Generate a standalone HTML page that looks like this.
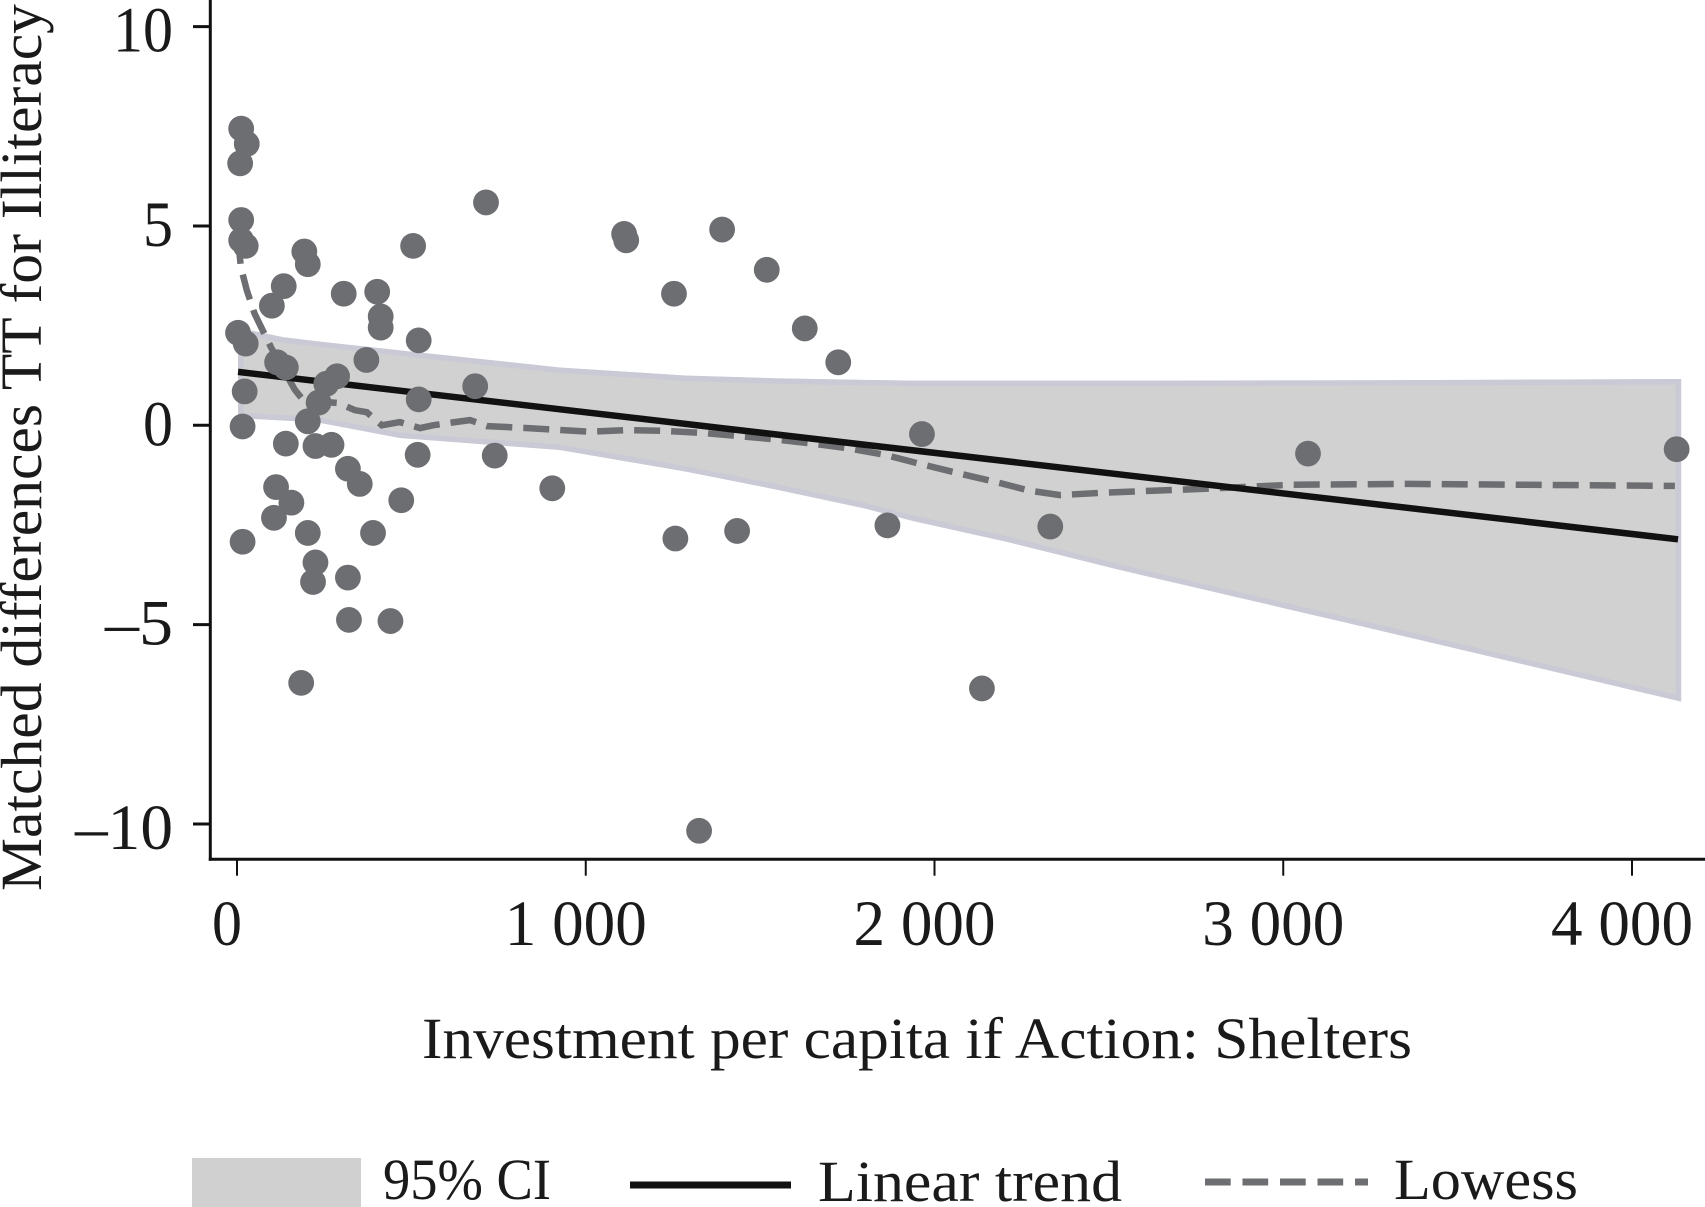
<!DOCTYPE html>
<html lang="en">
<head>
<meta charset="utf-8">
<title>Matched differences TT for Illiteracy vs investment per capita</title>
<style>
html,body{margin:0;padding:0;background:#fff;width:1705px;height:1207px;overflow:hidden}
svg{display:block}
text{font-family:"Liberation Serif",serif;fill:#1a1a1a}
</style>
</head>
<body>
<svg id="chart" xmlns="http://www.w3.org/2000/svg" width="1705" height="1207" viewBox="0 0 1705 1207">
<defs><clipPath id="band-clip"><polygon id="band-clip-shape"/></clipPath></defs>
<g id="plot"></g>
<g id="axes">
<line x1="210.3" y1="0" x2="210.3" y2="860.8" stroke="#111" stroke-width="3"/>
<line x1="208.8" y1="859.3" x2="1705" y2="859.3" stroke="#111" stroke-width="3"/>
</g>
<text transform="translate(41,891) rotate(-90)" font-size="58" textLength="887" lengthAdjust="spacingAndGlyphs">Matched differences TT for Illiteracy</text>
<text x="422" y="1058" font-size="58" textLength="990" lengthAdjust="spacingAndGlyphs">Investment per capita if Action: Shelters</text>
<g>
<rect x="192" y="1158" width="169" height="49" fill="#d0d0d0"/>
<text x="383" y="1199" font-size="58" textLength="168" lengthAdjust="spacingAndGlyphs">95% CI</text>
<line x1="630" y1="1185" x2="791" y2="1185" stroke="#111" stroke-width="7"/>
<text x="818" y="1201" font-size="58" textLength="304" lengthAdjust="spacingAndGlyphs">Linear trend</text>
<line x1="1205" y1="1182" x2="1368" y2="1182" stroke="#6d6e71" stroke-width="7" stroke-dasharray="25.7 11.8"/>
<text x="1394" y="1199" font-size="58" textLength="184" lengthAdjust="spacingAndGlyphs">Lowess</text>
</g>
</svg>
<script>
const pointX = [12,28,9,12,12,25,3,25,22,16,16,100,134,115,140,193,203,306,402,412,412,505,521,371,287,256,234,203,140,225,271,521,518,683,714,739,904,318,352,112,156,106,203,390,471,225,218,318,321,440,184,1110,1116,1253,1391,1519,1628,1724,1964,1865,1257,1434,1325,2136,2332,3071,4128];
const pointY = [7.44,7.06,6.57,5.15,4.64,4.5,2.32,2.05,0.85,-0.03,-2.92,3.0,3.49,1.58,1.45,4.36,4.04,3.3,3.35,2.73,2.45,4.5,2.13,1.64,1.23,1.04,0.57,0.1,-0.46,-0.52,-0.49,0.65,-0.74,0.98,5.59,-0.76,-1.58,-1.09,-1.47,-1.55,-1.94,-2.32,-2.7,-2.7,-1.88,-3.44,-3.93,-3.82,-4.88,-4.91,-6.46,4.8,4.64,3.3,4.91,3.9,2.43,1.58,-0.22,-2.51,-2.84,-2.65,-10.17,-6.6,-2.54,-0.71,-0.6];
const trendX = [3,4132];
const trendY = [1.34,-2.86];
const lowessX = [3,11,28,50,66,99,166,190,290,338,372,415,467,525,562,625,668,717,834,1012,1121,1223,1336,1437,1540,1643,1755,1858,1960,2067,2170,2273,2360,2488,2807,3028,3360,4123];
const lowessY = [4.7,3.97,3.39,2.81,2.52,1.93,0.89,0.63,0.56,0.38,0.33,0,0.08,-0.07,0,0.08,0.13,-0.02,-0.07,-0.16,-0.12,-0.14,-0.19,-0.27,-0.35,-0.45,-0.58,-0.74,-0.97,-1.2,-1.41,-1.64,-1.75,-1.69,-1.58,-1.49,-1.47,-1.52];
const ciX = [3,132,238,467,926,1285,1540,1797,1938,2206,2532,3249,4141];
const ciUpper = [2.45,2.21,2.1,1.88,1.45,1.25,1.18,1.14,1.12,1.12,1.12,1.13,1.16];
const ciLower = [0.18,0.12,0.06,-0.32,-0.62,-1.16,-1.6,-2.08,-2.4,-2.92,-3.63,-5.09,-6.93];
const xTickValues = [0,1000,2000,3000,4000];
const xTickLabels = ['0','1 000','2 000','3 000','4 000'];
const yTickValues = [10,5,0,-5,-10];
const yTickLabels = ['10','5','0','–5','–10'];

const NS = 'http://www.w3.org/2000/svg';
function xScale(v){ return 237 + 0.34875 * v; }
function yScale(v){ return 425.3 - 39.87 * v; }
function labelWidth(s){
  let w = 0;
  for (const c of s) { w += c === ' ' ? 22 : c === '–' ? 38 : 30; }
  return w;
}
function yLabelBaseline(v){ return yScale(v) + (Math.abs(v) === 10 ? 25 : 20); }
function make(tag, attrs){
  const el = document.createElementNS(NS, tag);
  for (const k in attrs) el.setAttribute(k, attrs[k]);
  return el;
}
const plot = document.getElementById('plot');
const axes = document.getElementById('axes');

const upperPts = ciX.map((x,i)=>xScale(x)+','+yScale(ciUpper[i]));
const lowerPts = ciX.map((x,i)=>xScale(x)+','+yScale(ciLower[i])).reverse();
const bandPoints = upperPts.concat(lowerPts).join(' ');
document.getElementById('band-clip-shape').setAttribute('points', bandPoints);
const band = make('polygon',{points:bandPoints,fill:'#d1d1d1',stroke:'#c9cad5','stroke-width':11,'stroke-linejoin':'round','clip-path':'url(#band-clip)'});


plot.appendChild(band);

const lowess = make('polyline',{points:lowessX.map((x,i)=>xScale(x)+','+yScale(lowessY[i])).join(' '),fill:'none',stroke:'#6d6e71','stroke-width':6.5,'stroke-dasharray':'26 11'});


plot.appendChild(lowess);

const trend = make('polyline',{points:trendX.map((x,i)=>xScale(x)+','+yScale(trendY[i])).join(' '),fill:'none',stroke:'#111','stroke-width':6.5});


plot.appendChild(trend);

pointX.forEach((x,i)=>{
  const c = make('circle',{cx:xScale(x),cy:yScale(pointY[i]),r:12.9,fill:'#6d6e71'});
  
  
  plot.appendChild(c);
});

xTickValues.forEach((v,i)=>{
  const t = make('line',{x1:xScale(v),y1:860,x2:xScale(v),y2:875.7,stroke:'#111','stroke-width':2});
  
  
  axes.appendChild(t);
  const lab = make('text',{x:xScale(v)-(i===0?10:10),y:945,'font-size':65,'text-anchor':'middle',textLength:labelWidth(xTickLabels[i]),lengthAdjust:'spacingAndGlyphs'});
  lab.textContent = xTickLabels[i];
  
  
  axes.appendChild(lab);
});
yTickValues.forEach((v,i)=>{
  const t = make('line',{x1:193,y1:yScale(v),x2:210,y2:yScale(v),stroke:'#111','stroke-width':3});
  
  
  axes.appendChild(t);
  const lab = make('text',{x:173,y:yLabelBaseline(v),'font-size':65,'text-anchor':'end',textLength:labelWidth(yTickLabels[i]),lengthAdjust:'spacingAndGlyphs'});
  lab.textContent = yTickLabels[i];
  
  
  axes.appendChild(lab);
});
</script>
</body>
</html>
